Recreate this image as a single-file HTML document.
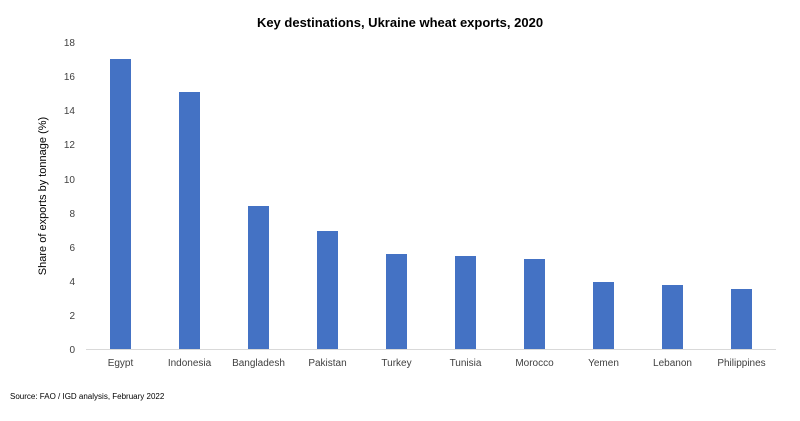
<!DOCTYPE html>
<html><head><style>
body{margin:0;background:#fff;}
svg text{font-family:"Liberation Sans",sans-serif;fill:#404040;}
</style></head><body>
<svg width="800" height="416" xmlns="http://www.w3.org/2000/svg">
<rect width="800" height="416" fill="#fff"/>
<text x="400" y="27" text-anchor="middle" font-size="13" font-weight="bold" fill="#000" style="fill:#000">Key destinations, Ukraine wheat exports, 2020</text>
<g font-size="10" text-anchor="end">
<text x="75" y="353">0</text>
<text x="75" y="319">2</text>
<text x="75" y="285">4</text>
<text x="75" y="251">6</text>
<text x="75" y="217">8</text>
<text x="75" y="183">10</text>
<text x="75" y="148">12</text>
<text x="75" y="114">14</text>
<text x="75" y="80">16</text>
<text x="75" y="46">18</text>
</g>
<text transform="translate(46,196) rotate(-90)" text-anchor="middle" font-size="11" style="fill:#000">Share of exports by tonnage (%)</text>
<g fill="#4472c4">
<rect x="110" y="59" width="21" height="290"/>
<rect x="179" y="92" width="21" height="257"/>
<rect x="248" y="206" width="21" height="143"/>
<rect x="317" y="231" width="21" height="118"/>
<rect x="386" y="254" width="21" height="95"/>
<rect x="455" y="256" width="21" height="93"/>
<rect x="524" y="259" width="21" height="90"/>
<rect x="593" y="282" width="21" height="67"/>
<rect x="662" y="285" width="21" height="64"/>
<rect x="731" y="289" width="21" height="60"/>
</g>
<line x1="86" y1="349.5" x2="776" y2="349.5" stroke="#d9d9d9" stroke-width="1"/>
<g font-size="10" text-anchor="middle">
<text x="120.5" y="366">Egypt</text>
<text x="189.5" y="366">Indonesia</text>
<text x="258.5" y="366">Bangladesh</text>
<text x="327.5" y="366">Pakistan</text>
<text x="396.5" y="366">Turkey</text>
<text x="465.5" y="366">Tunisia</text>
<text x="534.5" y="366">Morocco</text>
<text x="603.5" y="366">Yemen</text>
<text x="672.5" y="366">Lebanon</text>
<text x="741.5" y="366">Philippines</text>
</g>
<text x="10" y="399" font-size="8" style="fill:#000">Source: FAO / IGD analysis, February 2022</text>
</svg>
</body></html>
